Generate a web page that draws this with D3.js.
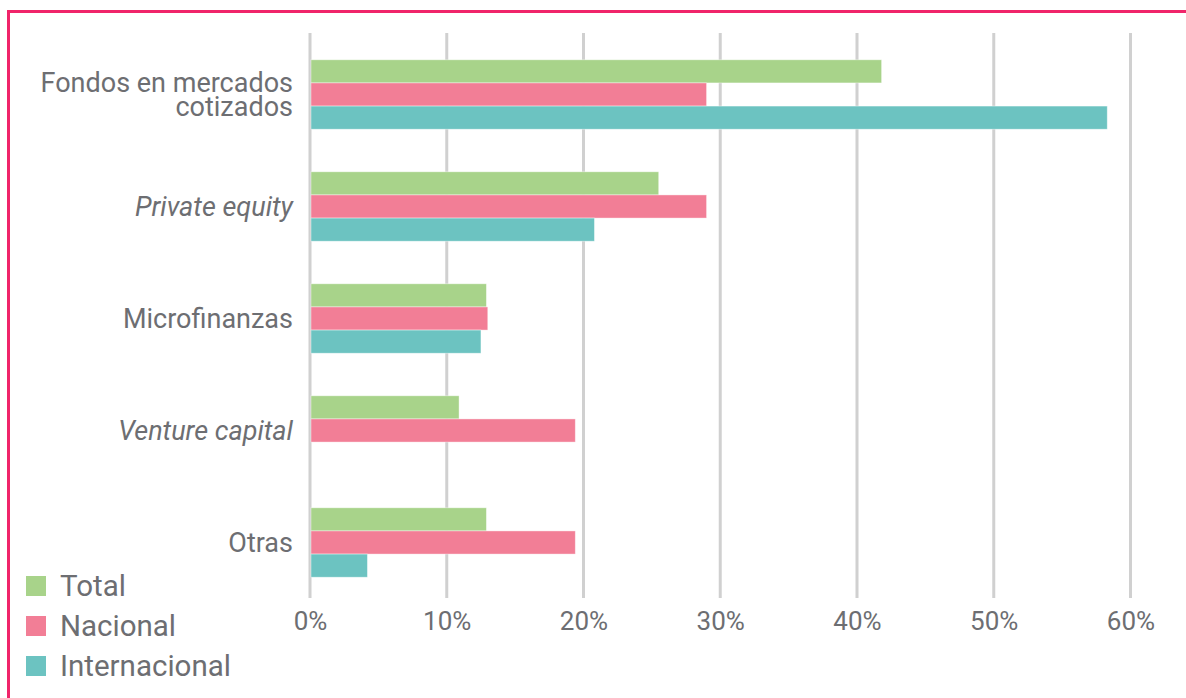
<!DOCTYPE html>
<html>
<head>
<meta charset="utf-8">
<script src="https://cdn.jsdelivr.net/npm/d3@7/dist/d3.min.js"></script>
<style>
  html, body { margin: 0; padding: 0; background: #fff; }
  svg { display: block; font-family: Roboto, "Noto Sans", sans-serif; }
</style>
</head>
<body>
<svg id="chart" width="1186" height="698"></svg>
<script>
// Fund types (one group of bars per type)
const categories = [
  ["Fondos en mercados", "cotizados"],
  ["Private equity"],
  ["Microfinanzas"],
  ["Venture capital"],
  ["Otras"]
];
const italicCategories = ["Private equity", "Venture capital"];

// Share of each fund type, by investor origin
const series = ["Total", "Nacional", "Internacional"];
const totalValues = [0.418, 0.255, 0.129, 0.109, 0.129];
const nacionalValues = [0.290, 0.290, 0.130, 0.194, 0.194];
const internacionalValues = [0.583, 0.208, 0.125, 0, 0.042];

const tickValues = [0, 0.1, 0.2, 0.3, 0.4, 0.5, 0.6];
const colors = ["#a8d38a", "#f27e96", "#6cc3c1"];

const textColor = "#6d6e72";
const svg = d3.select("#chart");

// Frame around the chart
svg.append("rect")
  .attr("x", 8.5).attr("y", 11.5)
  .attr("width", 1200).attr("height", 720)
  .attr("fill", "none")
  .attr("stroke", "#f0246a")
  .attr("stroke-width", 3);

const catKeys = categories.map(c => c.join(" "));
const valuesBySeries = [totalValues, nacionalValues, internacionalValues];

const x = d3.scaleLinear().domain([0, 0.6]).range([310, 1130.5]);
const y = d3.scaleBand().domain(catKeys).range([38.5, 598.5]).padding(0);
const yInner = d3.scaleBand().domain(series).range([0, y.bandwidth()])
  .paddingInner(0).paddingOuter(0.92);

// Vertical gridlines
svg.append("g").selectAll("line")
  .data(tickValues)
  .join("line")
  .attr("x1", d => x(d)).attr("x2", d => x(d))
  .attr("y1", 33).attr("y2", 598)
  .attr("stroke", "#d0d0d0")
  .attr("stroke-width", 3);

// Bars
const groups = svg.append("g").selectAll("g")
  .data(catKeys)
  .join("g")
  .attr("transform", d => `translate(0,${y(d)})`);

groups.selectAll("rect")
  .data((d, i) => series.map((s, j) => ({ s, j, v: valuesBySeries[j][i] })))
  .join("rect")
  .filter(d => d.v > 0)
  .attr("x", x(0) + 1)
  .attr("y", d => yInner(d.s))
  .attr("width", d => x(d.v) - x(0) - 1)
  .attr("height", yInner.bandwidth())
  .attr("fill", d => colors[d.j])
  .attr("stroke", "rgba(255,255,255,0.5)")
  .attr("stroke-width", 0.8);

// Category labels
const lineHeight = 23.3;
svg.append("g").selectAll("text")
  .data(categories)
  .join("text")
  .attr("x", 293)
  .attr("y", (d, i) => y(catKeys[i]) + y.bandwidth() / 2 + 9.5 - (d.length - 1) * lineHeight / 2)
  .attr("text-anchor", "end")
  .attr("fill", textColor)
  .style("font-size", "27px")
  .style("font-style", d => italicCategories.includes(d.join(" ")) ? "italic" : "normal")
  .selectAll("tspan")
  .data(d => d)
  .join("tspan")
  .attr("x", 293)
  .attr("dy", (d, i) => i === 0 ? 0 : lineHeight)
  .text(d => d);

// Value axis
const xAxis = d3.axisBottom(x)
  .tickValues(tickValues)
  .tickFormat(d3.format(".0%"))
  .tickSize(0)
  .tickPadding(14);
const axisG = svg.append("g")
  .attr("transform", "translate(0,598)")
  .call(xAxis);
axisG.select(".domain").remove();
axisG.selectAll("text")
  .attr("fill", textColor)
  .style("font-size", "26px")
  .style("font-family", "Roboto, sans-serif");

// Legend
const legend = svg.append("g").selectAll("g")
  .data(series)
  .join("g")
  .attr("transform", (d, i) => `translate(26,${576 + i * 40})`);
legend.append("rect")
  .attr("width", 20).attr("height", 20)
  .attr("fill", (d, i) => colors[i]);
legend.append("text")
  .attr("x", 34).attr("y", 20)
  .attr("fill", textColor)
  .style("font-size", "29.5px")
  .text(d => d);
</script>
</body>
</html>
